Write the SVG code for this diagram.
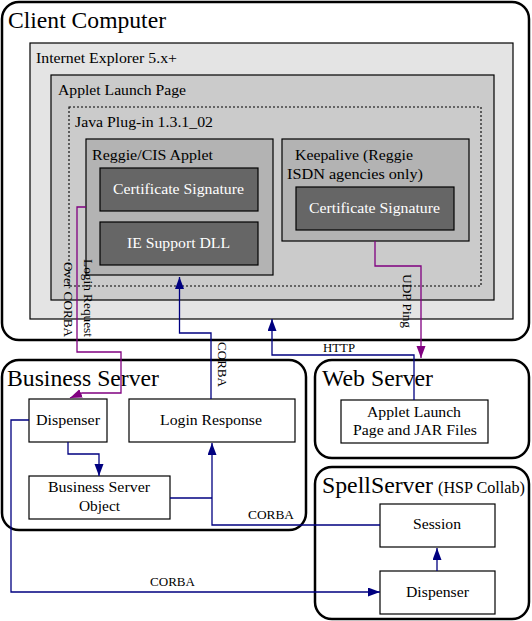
<svg xmlns="http://www.w3.org/2000/svg" width="532" height="621" viewBox="0 0 532 621">
<style>
text{font-family:"Liberation Serif","Times New Roman",serif;fill:#000}
.big{font-size:24px}
.t15{font-size:15px}
.t13{font-size:13px}
.w{fill:#fff}
.group{fill:#fff;stroke:#000;stroke-width:2.5}
.box{fill:#fff;stroke:#000;stroke-width:1.2}
.dark{fill:#666;stroke:#000;stroke-width:1.2}
.nav{fill:none;stroke:#000080;stroke-width:1.3}
.pur{fill:none;stroke:#800080;stroke-width:1.3}
</style>
<defs>
<marker id="an" markerUnits="userSpaceOnUse" markerWidth="14" markerHeight="10" refX="12" refY="4.5" orient="auto"><path d="M0,0 L12,4.5 L0,9 z" fill="#000080"/></marker>
<marker id="ap" markerUnits="userSpaceOnUse" markerWidth="14" markerHeight="10" refX="12" refY="4.5" orient="auto"><path d="M0,0 L12,4.5 L0,9 z" fill="#800080"/></marker>
</defs>

<g id="client-computer">
<rect class="group" x="2" y="2" width="527" height="338" rx="17"/>
<text class="big" x="8" y="28" textLength="158" lengthAdjust="spacingAndGlyphs">Client Computer</text>
</g>
<g id="internet-explorer">
<rect x="30" y="43" width="483" height="276" fill="#e4e4e4" stroke="#000" stroke-width="1.2"/>
<text class="t15" x="36" y="63" textLength="141" lengthAdjust="spacingAndGlyphs">Internet Explorer 5.x+</text>
</g>
<g id="applet-launch-page">
<rect x="51" y="75" width="443" height="225" fill="#cbcbcb" stroke="#000" stroke-width="1.2"/>
<text class="t15" x="58" y="95" textLength="128" lengthAdjust="spacingAndGlyphs">Applet Launch Page</text>
</g>
<g id="java-plugin">
<rect x="69" y="107" width="412" height="179" fill="none" stroke="#000" stroke-width="1.1" stroke-dasharray="2,2"/>
<text class="t15" x="75" y="127" textLength="138" lengthAdjust="spacingAndGlyphs">Java Plug-in  1.3.1_02</text>
</g>
<g id="reggie-applet">
<rect x="86" y="139" width="187" height="136" fill="#b3b3b3" stroke="#000" stroke-width="1.2"/>
<text class="t15" x="92" y="160" textLength="121" lengthAdjust="spacingAndGlyphs">Reggie/CIS Applet</text>
</g>
<g id="cert-signature-1">
<rect class="dark" x="100" y="168" width="158" height="43"/>
<text class="t15 w" x="113" y="194" textLength="131" lengthAdjust="spacingAndGlyphs">Certificate Signature</text>
</g>
<g id="ie-support-dll">
<rect class="dark" x="100" y="222" width="158" height="43"/>
<text class="t15 w" x="127" y="248" textLength="103" lengthAdjust="spacingAndGlyphs">IE Support DLL</text>
</g>
<g id="keepalive">
<rect x="282" y="139" width="187" height="102" fill="#b3b3b3" stroke="#000" stroke-width="1.2"/>
<text class="t15" x="295" y="160" textLength="118" lengthAdjust="spacingAndGlyphs">Keepalive (Reggie</text>
<text class="t15" x="287" y="179" textLength="136" lengthAdjust="spacingAndGlyphs">ISDN agencies only)</text>
</g>
<g id="cert-signature-2">
<rect class="dark" x="296" y="187" width="158" height="43"/>
<text class="t15 w" x="309" y="213" textLength="131" lengthAdjust="spacingAndGlyphs">Certificate Signature</text>
</g>

<g id="business-server">
<rect class="group" x="2" y="360" width="304" height="170" rx="17"/>
<text class="big" x="7" y="386" textLength="152" lengthAdjust="spacingAndGlyphs">Business Server</text>
</g>
<g id="bs-dispenser">
<rect class="box" x="29" y="399" width="78" height="43"/>
<text class="t15" x="36" y="425" textLength="64" lengthAdjust="spacingAndGlyphs">Dispenser</text>
</g>
<g id="login-response">
<rect class="box" x="129" y="399" width="166" height="43"/>
<text class="t15" x="160" y="425" textLength="102" lengthAdjust="spacingAndGlyphs">Login Response</text>
</g>
<g id="business-server-object">
<rect class="box" x="29" y="476" width="141" height="43"/>
<text class="t15" x="48" y="492" textLength="102" lengthAdjust="spacingAndGlyphs">Business Server</text>
<text class="t15" x="79" y="511" textLength="41" lengthAdjust="spacingAndGlyphs">Object</text>
</g>

<g id="web-server">
<rect class="group" x="315" y="360" width="214" height="98" rx="17"/>
<text class="big" x="322" y="386" textLength="111" lengthAdjust="spacingAndGlyphs">Web Server</text>
</g>
<g id="applet-launch-files">
<rect class="box" x="341" y="400" width="147" height="43"/>
<text class="t15" x="367" y="417" textLength="94" lengthAdjust="spacingAndGlyphs">Applet Launch</text>
<text class="t15" x="353" y="435" textLength="124" lengthAdjust="spacingAndGlyphs">Page and JAR Files</text>
</g>

<g id="spell-server">
<rect class="group" x="315" y="467" width="214" height="152" rx="17"/>
<text class="big" x="322" y="493" textLength="111" lengthAdjust="spacingAndGlyphs">SpellServer</text>
<text x="438" y="493" font-size="16" textLength="87" lengthAdjust="spacingAndGlyphs">(HSP Collab)</text>
</g>
<g id="session">
<rect class="box" x="380" y="504" width="115" height="43"/>
<text class="t15" x="413" y="529" textLength="48" lengthAdjust="spacingAndGlyphs">Session</text>
</g>
<g id="ss-dispenser">
<rect class="box" x="380" y="571" width="115" height="43"/>
<text class="t15" x="406" y="597" textLength="63" lengthAdjust="spacingAndGlyphs">Dispenser</text>
</g>

<g id="connectors">
<path class="pur" d="M86 207 H77 V352 H121 V393 H82 L70 398" marker-end="url(#ap)"/>
<path class="nav" d="M211 399 V333 H179.5 V277" marker-end="url(#an)"/>
<path class="nav" d="M414 400 V355 H272 V319" marker-end="url(#an)"/>
<path class="pur" d="M375 241 V266 H421 V358" marker-end="url(#ap)"/>
<path class="nav" d="M68 442 V454 H99 V476" marker-end="url(#an)"/>
<path class="nav" d="M170 498 H212"/>
<path class="nav" d="M380 525 H212 V443" marker-end="url(#an)"/>
<path class="nav" d="M29 420 H11 V592 H380" marker-end="url(#an)"/>
<path class="nav" d="M437 571 V548" marker-end="url(#an)"/>
<g transform="translate(84,259) rotate(90)"><text class="t13" textLength="78" lengthAdjust="spacingAndGlyphs">Login Request</text></g>
<g transform="translate(64,262) rotate(90)"><text class="t13" textLength="75" lengthAdjust="spacingAndGlyphs">Over CORBA</text></g>
<g transform="translate(218,342) rotate(90)"><text class="t13" textLength="45" lengthAdjust="spacingAndGlyphs">CORBA</text></g>
<g transform="translate(403,274) rotate(90)"><text class="t13" textLength="54" lengthAdjust="spacingAndGlyphs">UDP Ping</text></g>
<text class="t13" x="323" y="352" textLength="32" lengthAdjust="spacingAndGlyphs">HTTP</text>
<text class="t13" x="248" y="519" textLength="46" lengthAdjust="spacingAndGlyphs">CORBA</text>
<text class="t13" x="150" y="586" textLength="45" lengthAdjust="spacingAndGlyphs">CORBA</text>
</g>
</svg>
